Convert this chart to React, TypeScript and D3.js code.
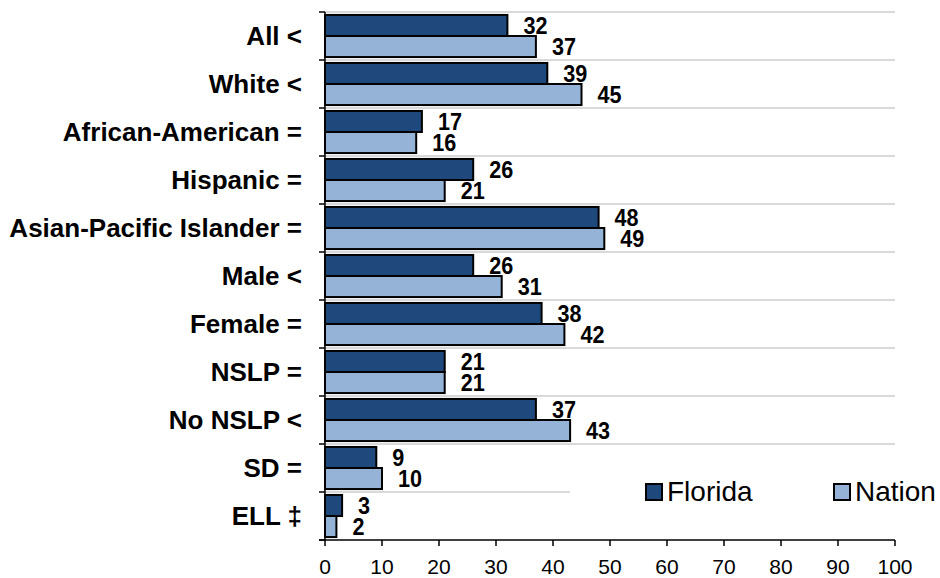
import { useEffect, useRef } from 'react';
import * as d3 from 'd3';

const categories = [
  'All <',
  'White <',
  'African-American =',
  'Hispanic =',
  'Asian-Pacific Islander =',
  'Male <',
  'Female =',
  'NSLP =',
  'No NSLP <',
  'SD =',
  'ELL ‡',
];
const seriesNames = ['Florida', 'Nation'];
const florida = [32, 39, 17, 26, 48, 26, 38, 21, 37, 9, 3];
const nation = [37, 45, 16, 21, 49, 31, 42, 21, 43, 10, 2];
const xTicks = [0, 10, 20, 30, 40, 50, 60, 70, 80, 90, 100];

const colors: Record<string, string> = { Florida: '#1F497D', Nation: '#95B3D7' };

export default function App() {
  const svgRef = useRef<SVGSVGElement>(null);

  useEffect(() => {
    if (!svgRef.current) return;
    const W = 940;
    const H = 578;
    const margin = { top: 12, right: 45, bottom: 38, left: 325 };

    const svg = d3.select(svgRef.current);
    svg.selectAll('*').remove();
    svg.attr('width', W).attr('height', H);

    const x = d3.scaleLinear().domain([0, 100]).range([margin.left, W - margin.right]);
    const y = d3
      .scaleBand<string>()
      .domain(categories)
      .range([margin.top, H - margin.bottom])
      .padding(0);
    const sub = d3
      .scaleBand<string>()
      .domain(seriesNames)
      .range([0, y.bandwidth()])
      .paddingInner(0)
      .paddingOuter(0.14);

    const values: Record<string, number[]> = { Florida: florida, Nation: nation };
    const sans = "'Liberation Sans', Arial, sans-serif";

    // gridlines at category boundaries
    const bounds = categories.map((c) => y(c)!);
    svg
      .append('g')
      .selectAll('line')
      .data(bounds)
      .enter()
      .append('line')
      .attr('x1', x(0))
      .attr('x2', x(100))
      .attr('y1', (d) => d)
      .attr('y2', (d) => d)
      .attr('stroke', '#d9d9d9')
      .attr('stroke-width', 2);

    // legend box (hides part of the gridline)
    const lg = svg.append('g');
    lg.append('rect')
      .attr('x', 570)
      .attr('y', 470)
      .attr('width', 370)
      .attr('height', 42)
      .attr('fill', '#fff');

    // bars
    seriesNames.forEach((s) => {
      const g = svg.append('g');
      g.selectAll('rect')
        .data(values[s])
        .enter()
        .append('rect')
        .attr('x', x(0))
        .attr('y', (_, i) => y(categories[i])! + sub(s)!)
        .attr('width', (d) => x(d) - x(0))
        .attr('height', sub.bandwidth())
        .attr('fill', colors[s])
        .attr('stroke', '#000')
        .attr('stroke-width', 2);

      g.selectAll('text')
        .data(values[s])
        .enter()
        .append('text')
        .attr(
          'transform',
          (d, i) =>
            `translate(${x(d) + 16},${y(categories[i])! + sub(s)! + sub.bandwidth() / 2}) scale(0.9,1)`
        )
        .attr('dy', '0.36em')
        .attr('font-family', sans)
        .attr('font-size', 24)
        .attr('font-weight', 700)
        .text((d) => d);
    });

    // y axis
    const yAxis = svg.append('g');
    yAxis
      .append('line')
      .attr('x1', x(0))
      .attr('x2', x(0))
      .attr('y1', margin.top)
      .attr('y2', H - margin.bottom)
      .attr('stroke', '#000')
      .attr('stroke-width', 1.5);
    yAxis
      .selectAll('line.tick')
      .data([...bounds, H - margin.bottom])
      .enter()
      .append('line')
      .attr('class', 'tick')
      .attr('x1', x(0) - 6)
      .attr('x2', x(0))
      .attr('y1', (d) => d)
      .attr('y2', (d) => d)
      .attr('stroke', '#000')
      .attr('stroke-width', 1.5);
    yAxis
      .selectAll('text')
      .data(categories)
      .enter()
      .append('text')
      .attr('x', 302)
      .attr('y', (d) => y(d)! + y.bandwidth() / 2)
      .attr('dy', '0.36em')
      .attr('text-anchor', 'end')
      .attr('font-family', sans)
      .attr('font-size', 26)
      .attr('font-weight', 700)
      .text((d) => d);

    // x axis
    const xAxis = svg.append('g');
    const y0 = H - margin.bottom;
    xAxis
      .append('line')
      .attr('x1', x(0) - 6)
      .attr('x2', x(100))
      .attr('y1', y0)
      .attr('y2', y0)
      .attr('stroke', '#000')
      .attr('stroke-width', 1.5);
    xAxis
      .selectAll('line.tick')
      .data(xTicks)
      .enter()
      .append('line')
      .attr('class', 'tick')
      .attr('x1', (d) => x(d))
      .attr('x2', (d) => x(d))
      .attr('y1', y0)
      .attr('y2', y0 + 6)
      .attr('stroke', '#000')
      .attr('stroke-width', 1.5);
    xAxis
      .selectAll('text')
      .data(xTicks)
      .enter()
      .append('text')
      .attr('x', (d) => x(d))
      .attr('y', y0 + 34)
      .attr('text-anchor', 'middle')
      .attr('font-family', sans)
      .attr('font-size', 21)
      .attr('fill', '#000')
      .text((d) => d);

    // legend items
    const legendX = [646, 834];
    seriesNames.forEach((s, i) => {
      lg.append('rect')
        .attr('x', legendX[i])
        .attr('y', 484)
        .attr('width', 16)
        .attr('height', 16)
        .attr('fill', colors[s])
        .attr('stroke', '#000')
        .attr('stroke-width', 2);
      lg.append('text')
        .attr('x', legendX[i] + 21)
        .attr('y', 501)
        .attr('font-family', sans)
        .attr('font-size', 28)
        .text(s);
    });
  }, []);

  return (
    <svg
      ref={svgRef}
      style={{ position: 'absolute', left: 0, top: 0, display: 'block', background: '#fff' }}
      role="img"
      aria-label="Florida vs Nation bar chart"
    />
  );
}
